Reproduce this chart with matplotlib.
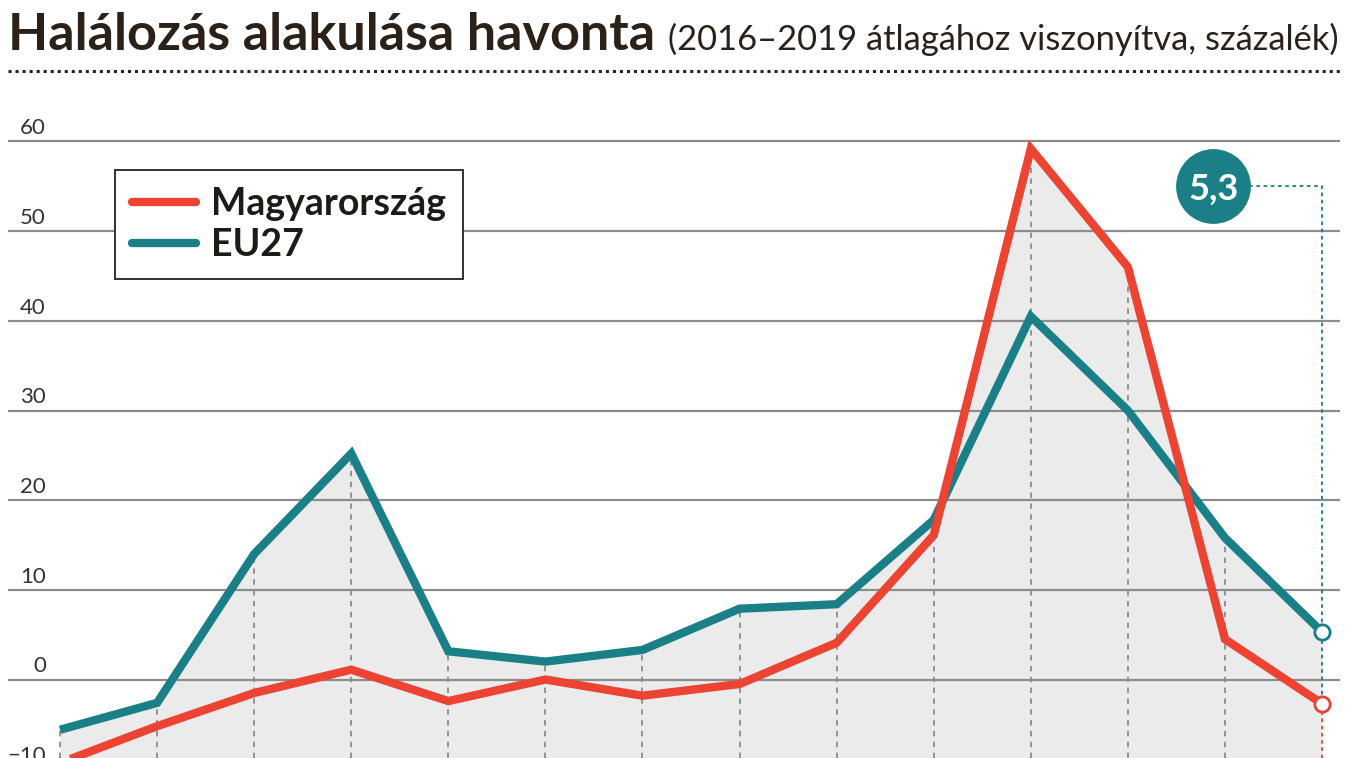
import matplotlib
matplotlib.use("Agg")
import matplotlib.pyplot as plt
import numpy as np
from matplotlib.lines import Line2D

plt.rcParams['font.family'] = ['Lato', 'DejaVu Sans']

# havi adatok, 2020 jan - 2021 feb
months = ['2020.01', '2020.02', '2020.03', '2020.04', '2020.05', '2020.06', '2020.07',
          '2020.08', '2020.09', '2020.10', '2020.11', '2020.12', '2021.01', '2021.02']
hu = [-9.3, -5.2, -1.5, 1.1, -2.4, 0.0, -1.8, -0.5, 4.1, 16.1, 59.2, 46.0, 4.5, -2.7]
eu = [-5.6, -2.6, 14.0, 25.2, 3.15, 2.0, 3.3, 7.9, 8.4, 17.8, 40.5, 30.0, 15.8, 5.3]
yticks = [-10, 0, 10, 20, 30, 40, 50, 60]
last_label = '5,3'

RED = '#ec4332'
TEAL = '#1a7f87'
DARK = '#2b2118'
GRID = '#8c8c8c'
FILL = '#ebebeb'

W, H = 1347, 758
fig = plt.figure(figsize=(W / 100, H / 100), dpi=100)
ax = fig.add_axes([8 / W, 0, 1332 / W, (H - 85) / H])

x = np.arange(len(months))
ymin, ymax = -8.75, 66.3
ax.set_xlim(-0.536, len(months) - 1 + 0.185)
ax.set_ylim(ymin, ymax)

# szürke terület a görbék alatt
ax.fill_between(x, hu, ymin, color=FILL, lw=0, zorder=1)
ax.fill_between(x, eu, ymin, color=FILL, lw=0, zorder=1)

# rácsvonalak és feliratok
for v in yticks:
    ax.axhline(v, color=GRID, lw=1.6, zorder=2)
    ax.text((46 - 8) / 1332, v + 0.35, str(v).replace('-', '−'), transform=ax.get_yaxis_transform(),
            ha='right', va='bottom', fontsize=16, color='#333333', zorder=3)

# függőleges szaggatott vonalak
top = np.maximum(hu, eu)
for i in x[:-1]:
    ax.plot([i, i], [ymin, top[i]], color=GRID, lw=1.3, ls=(0, (3, 3)), zorder=2)

# utolsó pont jelölése
bx, by = 11.88, 55.0
ax.plot([bx, x[-1], x[-1]], [by, by, hu[-1]], color=TEAL, lw=1.3, ls=(0, (2, 2)), zorder=2)
ax.plot([x[-1], x[-1]], [hu[-1], ymin], color=RED, lw=1.3, ls=(0, (2, 2)), zorder=2)
ax.scatter([bx], [by], s=2900, color=TEAL, zorder=6, lw=0)
ax.text(bx, by - 0.3, last_label, color='white', fontsize=26, fontweight='bold',
        ha='center', va='center', zorder=7)

ax.plot(x, eu, color=TEAL, lw=6, solid_joinstyle='miter', solid_capstyle='butt',
        zorder=4, label='EU27')
ax.plot(x, hu, color=RED, lw=6, solid_joinstyle='miter', solid_capstyle='butt',
        zorder=5, label='Magyarország')
ax.plot(x[-1], eu[-1], 'o', ms=11, mfc='white', mec=TEAL, mew=2, zorder=6)
ax.plot(x[-1], hu[-1], 'o', ms=11, mfc='white', mec=RED, mew=2, zorder=6)

handles = [Line2D([], [], color=RED, lw=6, solid_capstyle='round'),
           Line2D([], [], color=TEAL, lw=6, solid_capstyle='round')]
leg = ax.legend(handles, ['Magyarország', 'EU27'], loc='upper left',
                bbox_to_anchor=(115 / W, 1 - 170 / H), bbox_transform=fig.transFigure,
                borderaxespad=0, fancybox=False, framealpha=1, edgecolor='#222222',
                prop={'size': 27, 'weight': 'bold'}, handlelength=1.7,
                handletextpad=0.4, borderpad=0.45, labelspacing=0.18)
leg.get_frame().set_linewidth(1.3)
leg.set_zorder(8)
for t in leg.get_texts():
    t.set_color('#1e1a16')

ax.axis('off')

# cím
fig.text(8 / W, 1 - 50 / H, 'Halálozás alakulása havonta', fontsize=37.5, fontweight='bold',
         color=DARK, va='baseline', ha='left')
fig.text(668 / W, 1 - 50 / H, '(2016–2019 átlagához viszonyítva, százalék)', fontsize=24.8,
         color=DARK, va='baseline', ha='left')
fig.add_artist(Line2D([8 / W, 1340 / W], [1 - 71 / H, 1 - 71 / H], transform=fig.transFigure,
                      color=DARK, lw=2.2, ls=(0, (1, 1.3))))

fig.savefig('out.png', dpi=100)
